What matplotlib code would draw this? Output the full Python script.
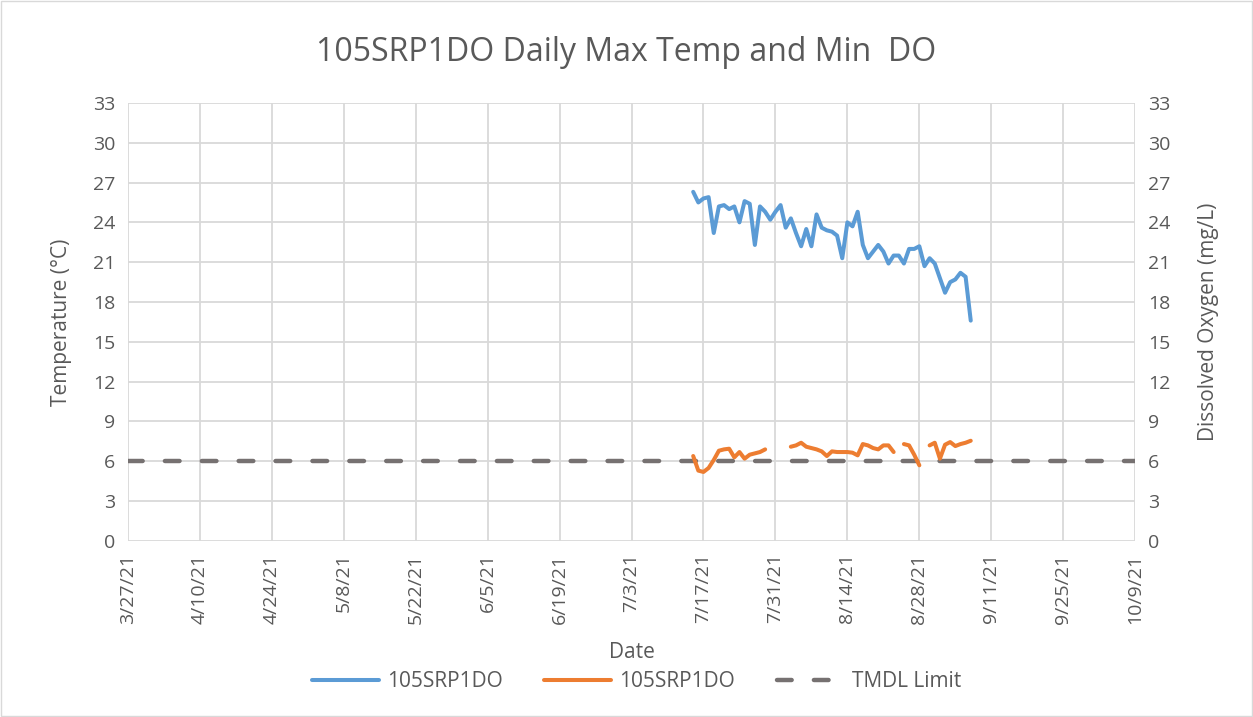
import numpy as np
import pandas as pd
import matplotlib
matplotlib.use("Agg")
import matplotlib.pyplot as plt

plt.rcParams['font.family'] = ['Open Sans', 'DejaVu Sans']

# data, one value per day from 7/15/21 to 9/7/21
dates = pd.date_range("2021-07-15", "2021-09-07", freq="D")

max_temp = [26.3, 25.5, 25.8, 25.9, 23.2, 25.2, 25.3, 25.0, 25.2, 24.0,
            25.6, 25.4, 22.3, 25.2, 24.8, 24.2, 24.8, 25.3, 23.6, 24.3,
            23.2, 22.2, 23.5, 22.2, 24.6, 23.6, 23.4, 23.3, 23.0, 21.3,
            24.0, 23.7, 24.8, 22.3, 21.3, 21.8, 22.3, 21.8, 20.9, 21.5,
            21.5, 20.9, 22.0, 22.0, 22.2, 20.7, 21.3, 20.9, 19.8, 18.7,
            19.5, 19.7, 20.2, 19.9, 16.6]

nan = np.nan
min_do = [6.4, 5.3, 5.2, 5.5, 6.1, 6.8, 6.9, 6.95, 6.3, 6.7,
          6.2, 6.5, 6.6, 6.7, 6.9, nan, nan, nan, nan, 7.1,
          7.2, 7.4, 7.1, 7.0, 6.9, 6.75, 6.4, 6.75, 6.7, 6.7,
          6.7, 6.65, 6.45, 7.3, 7.2, 7.0, 6.9, 7.2, 7.2, 6.7,
          nan, 7.3, 7.2, 6.5, 5.7, nan, 7.2, 7.4, 6.2, 7.25,
          7.45, 7.15, 7.3, 7.4, 7.55]

tmdl_limit = 6
x_start = pd.Timestamp("2021-03-27")
x_end = pd.Timestamp("2021-10-09")
tick_dates = pd.date_range(x_start, x_end, freq="14D")
tick_labels = [f"{d.month}/{d.day}/{d.strftime('%y')}" for d in tick_dates]
y_ticks = list(range(0, 34, 3))

text_col = "#595959"
grid_col = "#D9D9D9"

fig = plt.figure(figsize=(12.53, 7.17), dpi=100)
ax = fig.add_axes([0.102, 0.2455, 0.804, 0.611])
ax2 = ax.twinx()

ax.plot(dates, max_temp, color="#5B9BD5", lw=2.9, solid_joinstyle="round",
        solid_capstyle="round", label="105SRP1DO", zorder=3)
ax2.plot(dates, min_do, color="#ED7D31", lw=2.9, solid_joinstyle="round",
         solid_capstyle="round", label="105SRP1DO", zorder=3)
ax2.plot([x_start, x_end], [tmdl_limit, tmdl_limit], color="#767171", lw=3.2,
         dashes=(3.3, 5.0), dash_capstyle="round", label="TMDL Limit", zorder=2)

for a in (ax, ax2):
    a.set_xlim(x_start, x_end)
    a.set_ylim(0, 33)
    a.set_yticks(y_ticks)
    for s in a.spines.values():
        s.set_visible(False)
    a.tick_params(length=0, labelsize=14, colors=text_col, pad=9)

ax.set_xticks(tick_dates)
ax.set_xticklabels(tick_labels, rotation=90)
ax.grid(True, color=grid_col, lw=1.3)
ax.set_axisbelow(True)

ax.set_xlabel("Date", fontsize=15, color=text_col, labelpad=13)
ax.set_ylabel("Temperature (°C)", fontsize=15, color=text_col, labelpad=15)
ax2.set_ylabel("Dissolved Oxygen (mg/L)", fontsize=15, color=text_col, labelpad=20)

fig.suptitle("105SRP1DO Daily Max Temp and Min  DO", fontsize=23,
             color=text_col, y=0.95)

h1, l1 = ax.get_legend_handles_labels()
h2, l2 = ax2.get_legend_handles_labels()
fig.legend(h1 + h2, l1 + l2, loc="center", bbox_to_anchor=(0.508, 0.049),
           ncol=3, frameon=False, fontsize=15, labelcolor=text_col,
           handlelength=3.2, handletextpad=0.4, columnspacing=2.0)

# light chart border
fig.patches.append(plt.Rectangle((0.001, 0.001), 0.998, 0.998, transform=fig.transFigure,
                                 fill=False, edgecolor="#D9D9D9", lw=1))

fig.savefig("out.png", dpi=100)
